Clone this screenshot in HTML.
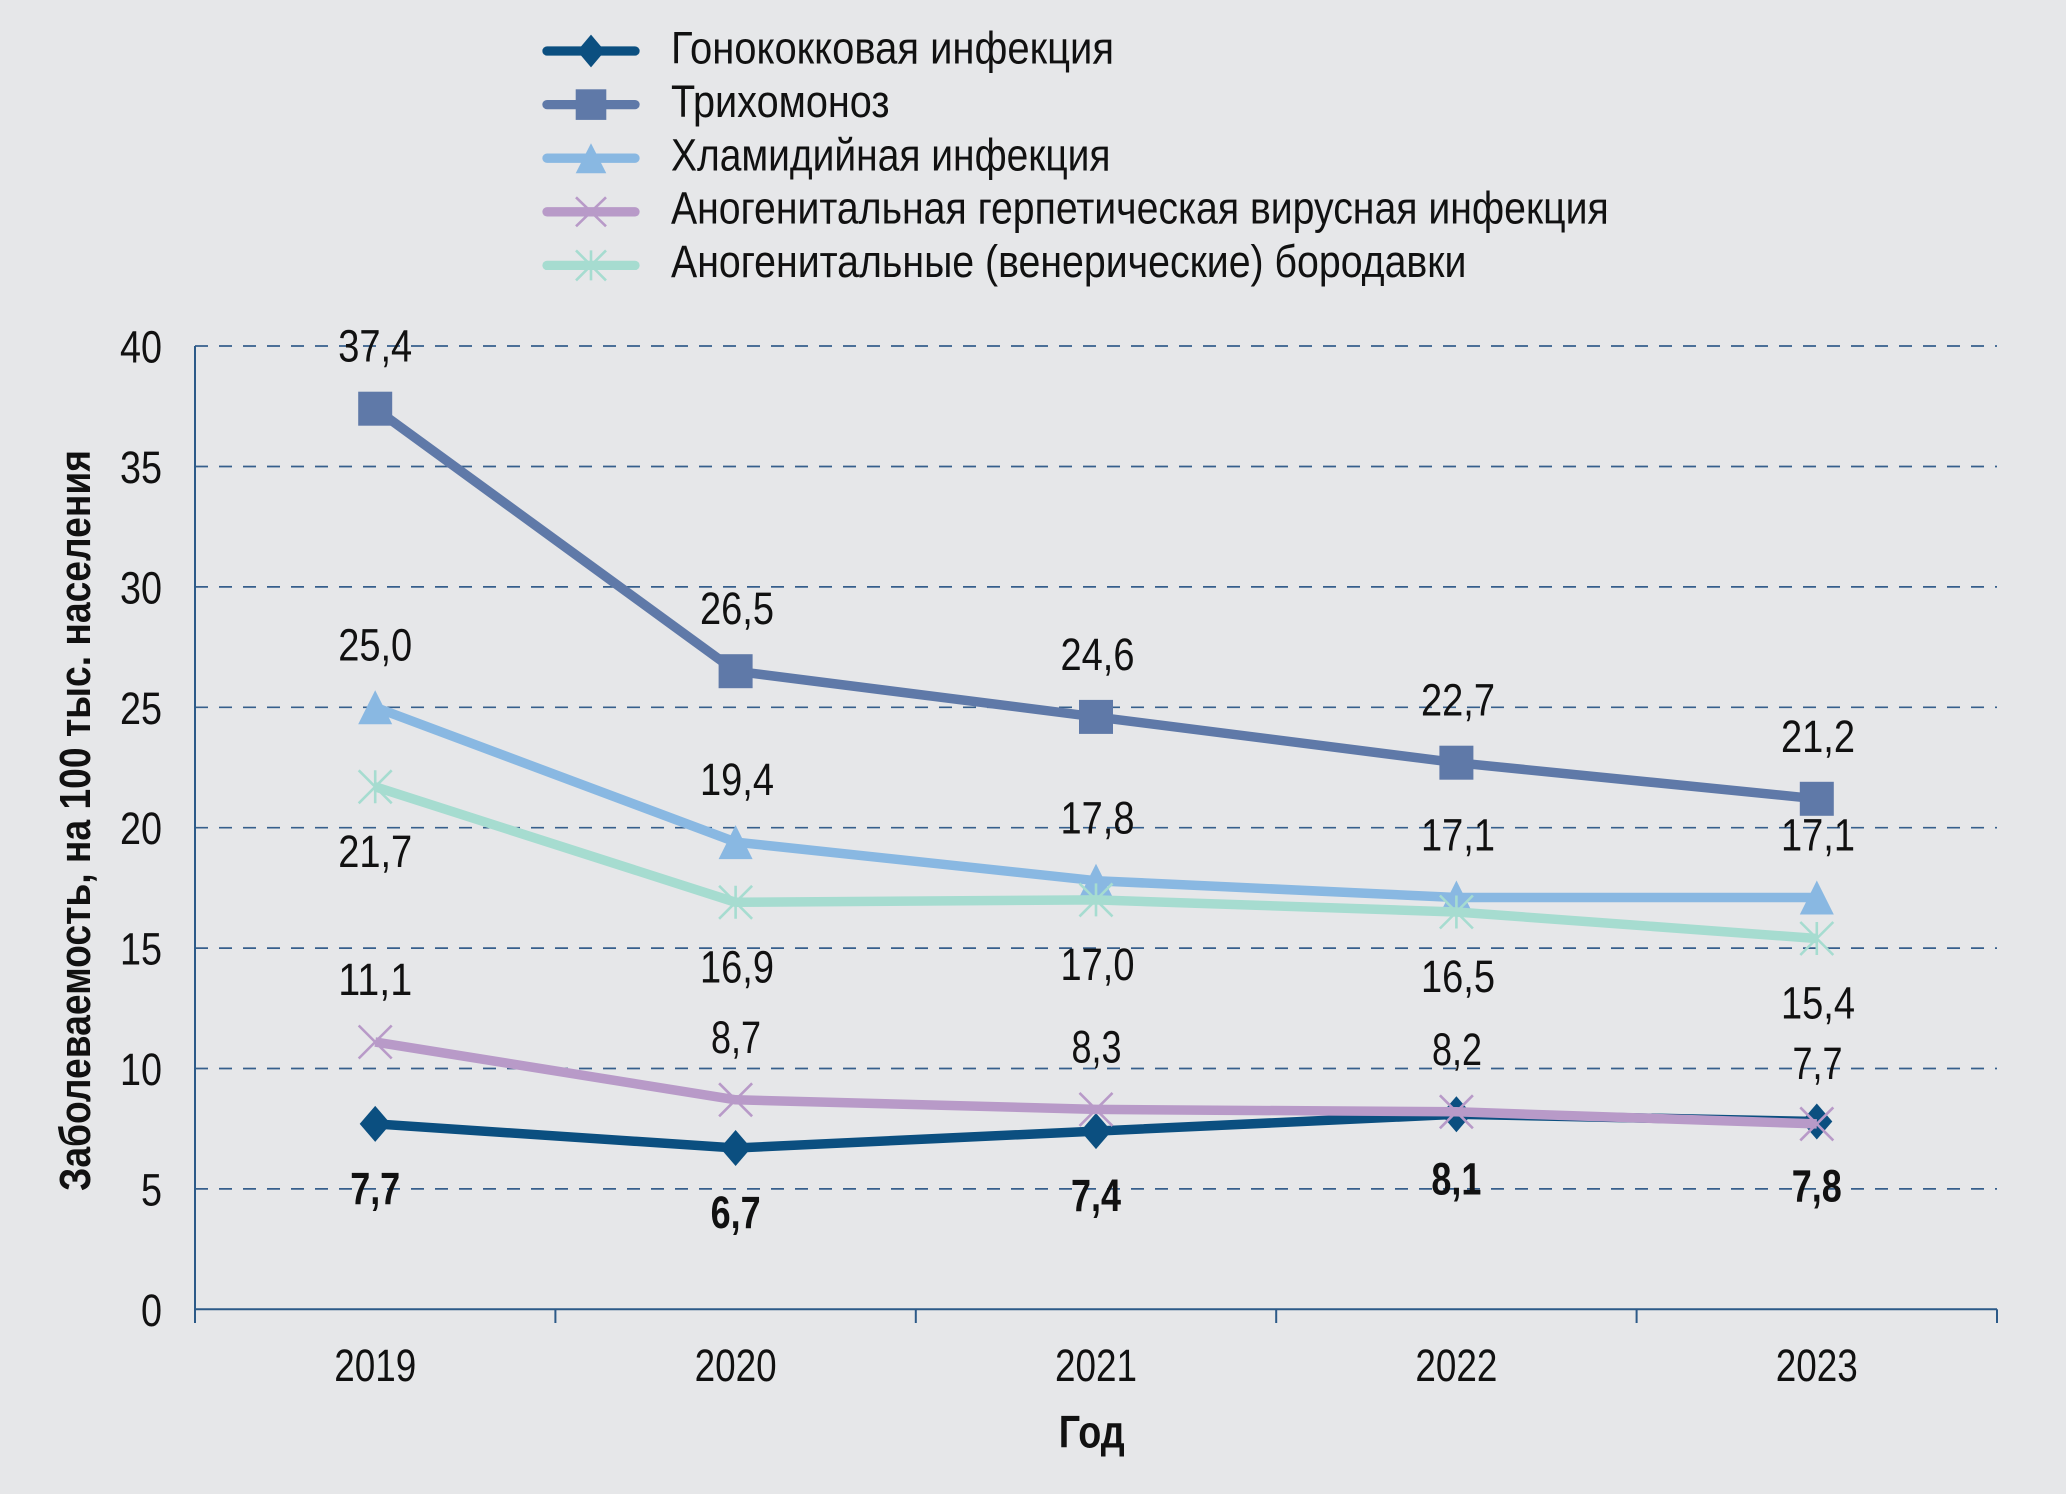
<!DOCTYPE html>
<html><head><meta charset="utf-8"><style>
html,body{margin:0;padding:0;background:#e6e7e9;}
svg{display:block;}
text{font-family:"Liberation Sans Narrow","Liberation Sans","Arial Narrow",sans-serif;fill:#111;}
.b{font-weight:bold;}
</style></head><body>
<svg width="2066" height="1494" viewBox="0 0 2066 1494" xmlns="http://www.w3.org/2000/svg">
<rect x="0" y="0" width="2066" height="1494" fill="#e6e7e9"/>

<!-- Legend -->
<g stroke-linecap="round">
<line x1="547" y1="51" x2="635" y2="51" stroke="#0b4f80" stroke-width="9.3"/>
<line x1="547" y1="104.6" x2="635" y2="104.6" stroke="#5f79a8" stroke-width="9.3"/>
<line x1="547" y1="158.2" x2="635" y2="158.2" stroke="#89b8e2" stroke-width="9.3"/>
<line x1="547" y1="211.8" x2="635" y2="211.8" stroke="#b89ac8" stroke-width="9.3"/>
<line x1="547" y1="265.4" x2="635" y2="265.4" stroke="#a6dcd0" stroke-width="9.3"/>
</g>
<path d="M591,34.6 L604.8,51 L591,67.4 L577.2,51 Z" fill="#0b4f80"/>
<rect x="575.7" y="89.3" width="30.6" height="30.6" fill="#5f79a8"/>
<path d="M591,143.2 L606.3,173.2 L575.7,173.2 Z" fill="#89b8e2"/>
<path d="M576,197.3 L606,226.3 M606,197.3 L576,226.3" stroke="#b89ac8" stroke-width="2.6" fill="none"/>
<path d="M576,250.4 L606,280.4 M606,250.4 L576,280.4 M591,250.4 L591,280.4" stroke="#a6dcd0" stroke-width="2.6" fill="none"/>

<text x="671" y="63.5" font-size="45" textLength="443" lengthAdjust="spacingAndGlyphs">Гонококковая инфекция</text>
<text x="671" y="116.9" font-size="45" textLength="218.6" lengthAdjust="spacingAndGlyphs">Трихомоноз</text>
<text x="671" y="170.3" font-size="45" textLength="439.5" lengthAdjust="spacingAndGlyphs">Хламидийная инфекция</text>
<text x="671" y="223.7" font-size="45" textLength="937.7" lengthAdjust="spacingAndGlyphs">Аногенитальная герпетическая вирусная инфекция</text>
<text x="671" y="277.1" font-size="45" textLength="795.4" lengthAdjust="spacingAndGlyphs">Аногенитальные (венерические) бородавки</text>

<!-- Gridlines -->
<g stroke="#365f8c" stroke-width="1.7" stroke-dasharray="13 11" fill="none">
<line x1="195" y1="346" x2="1997" y2="346"/>
<line x1="195" y1="466.5" x2="1997" y2="466.5"/>
<line x1="195" y1="586.9" x2="1997" y2="586.9"/>
<line x1="195" y1="707.3" x2="1997" y2="707.3"/>
<line x1="195" y1="827.7" x2="1997" y2="827.7"/>
<line x1="195" y1="948.1" x2="1997" y2="948.1"/>
<line x1="195" y1="1068.5" x2="1997" y2="1068.5"/>
<line x1="195" y1="1188.9" x2="1997" y2="1188.9"/>
</g>
<!-- Axes -->
<g stroke="#2c5a88" stroke-width="2" fill="none">
<line x1="195" y1="346" x2="195" y2="1323"/>
<line x1="195" y1="1309.3" x2="1997" y2="1309.3"/>
<line x1="555.4" y1="1309.3" x2="555.4" y2="1323"/>
<line x1="915.8" y1="1309.3" x2="915.8" y2="1323"/>
<line x1="1276.2" y1="1309.3" x2="1276.2" y2="1323"/>
<line x1="1636.6" y1="1309.3" x2="1636.6" y2="1323"/>
<line x1="1997" y1="1309.3" x2="1997" y2="1323"/>
</g>

<!-- Y tick labels -->
<g font-size="45" text-anchor="end">
<text x="162" y="362.5" textLength="42" lengthAdjust="spacingAndGlyphs">40</text>
<text x="162" y="483" textLength="42" lengthAdjust="spacingAndGlyphs">35</text>
<text x="162" y="603.4" textLength="42" lengthAdjust="spacingAndGlyphs">30</text>
<text x="162" y="723.8" textLength="42" lengthAdjust="spacingAndGlyphs">25</text>
<text x="162" y="844.2" textLength="42" lengthAdjust="spacingAndGlyphs">20</text>
<text x="162" y="964.6" textLength="42" lengthAdjust="spacingAndGlyphs">15</text>
<text x="162" y="1085" textLength="42" lengthAdjust="spacingAndGlyphs">10</text>
<text x="162" y="1205.4" textLength="21" lengthAdjust="spacingAndGlyphs">5</text>
<text x="162" y="1325.8" textLength="21" lengthAdjust="spacingAndGlyphs">0</text>
</g>

<!-- X labels -->
<g font-size="45" text-anchor="middle">
<text x="375.2" y="1381" textLength="82" lengthAdjust="spacingAndGlyphs">2019</text>
<text x="735.6" y="1381" textLength="82" lengthAdjust="spacingAndGlyphs">2020</text>
<text x="1096" y="1381" textLength="82" lengthAdjust="spacingAndGlyphs">2021</text>
<text x="1456.4" y="1381" textLength="82" lengthAdjust="spacingAndGlyphs">2022</text>
<text x="1816.8" y="1381" textLength="82" lengthAdjust="spacingAndGlyphs">2023</text>
</g>
<text class="b" x="1091.7" y="1447.7" font-size="45" text-anchor="middle" textLength="66" lengthAdjust="spacingAndGlyphs">Год</text>
<text class="b" transform="translate(90,820.5) rotate(-90)" x="0" y="0" font-size="44" text-anchor="middle" textLength="741" lengthAdjust="spacingAndGlyphs">Заболеваемость, на 100 тыс. населения</text>

<!-- Series lines -->
<g fill="none" stroke-width="9.5" stroke-linejoin="round" stroke-linecap="butt">
<polyline stroke="#0b4f80" points="375.2,1123.9 735.6,1148.0 1096,1131.1 1456.4,1114.3 1816.8,1121.5"/>
</g>
<g fill="#0b4f80">
<path d="M375.2,1105.9 L390.7,1123.9 L375.2,1141.9 L359.7,1123.9 Z"/>
<path d="M735.6,1130 L751.1,1148 L735.6,1166 L720.1,1148 Z"/>
<path d="M1096,1113.1 L1111.5,1131.1 L1096,1149.1 L1080.5,1131.1 Z"/>
<path d="M1456.4,1096.3 L1471.9,1114.3 L1456.4,1132.3 L1440.9,1114.3 Z"/>
<path d="M1816.8,1103.5 L1832.3,1121.5 L1816.8,1139.5 L1801.3,1121.5 Z"/>
</g>

<polyline fill="none" stroke-width="9.5" stroke-linejoin="round" stroke="#5f79a8" points="375.2,408.7 735.6,671.2 1096,716.9 1456.4,762.7 1816.8,798.8"/>
<g fill="#5f79a8">
<rect x="358.2" y="391.7" width="34" height="34"/>
<rect x="718.6" y="654.2" width="34" height="34"/>
<rect x="1079" y="699.9" width="34" height="34"/>
<rect x="1439.4" y="745.7" width="34" height="34"/>
<rect x="1799.8" y="781.8" width="34" height="34"/>
</g>

<polyline fill="none" stroke-width="9.5" stroke-linejoin="round" stroke="#89b8e2" points="375.2,707.3 735.6,842.1 1096,880.7 1456.4,897.5 1816.8,897.5"/>
<g fill="#89b8e2">
<path d="M375.2,690.3 L392.2,724.3 L358.2,724.3 Z"/>
<path d="M735.6,825.1 L752.6,859.1 L718.6,859.1 Z"/>
<path d="M1096,863.7 L1113,897.7 L1079,897.7 Z"/>
<path d="M1456.4,880.5 L1473.4,914.5 L1439.4,914.5 Z"/>
<path d="M1816.8,880.5 L1833.8,914.5 L1799.8,914.5 Z"/>
</g>

<polyline fill="none" stroke-width="9.5" stroke-linejoin="round" stroke="#b89ac8" points="375.2,1042.0 735.6,1099.8 1096,1109.4 1456.4,1111.8 1816.8,1123.9"/>
<g fill="none" stroke="#b89ac8" stroke-width="2.6">
<path d="M358.7,1025.5 L391.7,1058.5 M391.7,1025.5 L358.7,1058.5"/>
<path d="M719.1,1083.3 L752.1,1116.3 M752.1,1083.3 L719.1,1116.3"/>
<path d="M1079.5,1092.9 L1112.5,1125.9 M1112.5,1092.9 L1079.5,1125.9"/>
<path d="M1439.9,1095.3 L1472.9,1128.3 M1472.9,1095.3 L1439.9,1128.3"/>
<path d="M1800.3,1107.4 L1833.3,1140.4 M1833.3,1107.4 L1800.3,1140.4"/>
</g>

<polyline fill="none" stroke-width="9.5" stroke-linejoin="round" stroke="#a6dcd0" points="375.2,786.8 735.6,902.3 1096,899.9 1456.4,912.0 1816.8,938.5"/>
<g fill="none" stroke="#a6dcd0" stroke-width="2.6">
<path d="M358.7,770.3 L391.7,803.3 M391.7,770.3 L358.7,803.3 M375.2,770.3 L375.2,803.3"/>
<path d="M719.1,885.8 L752.1,918.8 M752.1,885.8 L719.1,918.8 M735.6,885.8 L735.6,918.8"/>
<path d="M1079.5,883.4 L1112.5,916.4 M1112.5,883.4 L1079.5,916.4 M1096,883.4 L1096,916.4"/>
<path d="M1439.9,895.5 L1472.9,928.5 M1472.9,895.5 L1439.9,928.5 M1456.4,895.5 L1456.4,928.5"/>
<path d="M1800.3,922 L1833.3,955 M1833.3,922 L1800.3,955 M1816.8,922 L1816.8,955"/>
</g>

<!-- Data labels -->
<g font-size="45" text-anchor="middle">
<!-- Trichomonas -->
<text x="375.2" y="361.7" textLength="74" lengthAdjust="spacingAndGlyphs">37,4</text>
<text x="737" y="624.2" textLength="74" lengthAdjust="spacingAndGlyphs">26,5</text>
<text x="1097.5" y="669.9" textLength="74" lengthAdjust="spacingAndGlyphs">24,6</text>
<text x="1458" y="715.7" textLength="74" lengthAdjust="spacingAndGlyphs">22,7</text>
<text x="1818" y="751.8" textLength="74" lengthAdjust="spacingAndGlyphs">21,2</text>
<!-- Chlamydia -->
<text x="375.2" y="660.3" textLength="74" lengthAdjust="spacingAndGlyphs">25,0</text>
<text x="737" y="795.1" textLength="74" lengthAdjust="spacingAndGlyphs">19,4</text>
<text x="1097.5" y="833.7" textLength="74" lengthAdjust="spacingAndGlyphs">17,8</text>
<text x="1458" y="850.5" textLength="74" lengthAdjust="spacingAndGlyphs">17,1</text>
<text x="1818" y="850.5" textLength="74" lengthAdjust="spacingAndGlyphs">17,1</text>
<!-- Herpes -->
<text x="375.2" y="995" textLength="74" lengthAdjust="spacingAndGlyphs">11,1</text>
<text x="736" y="1052.8" textLength="50" lengthAdjust="spacingAndGlyphs">8,7</text>
<text x="1096.5" y="1062.4" textLength="50" lengthAdjust="spacingAndGlyphs">8,3</text>
<text x="1457" y="1064.8" textLength="50" lengthAdjust="spacingAndGlyphs">8,2</text>
<text x="1817.5" y="1079" textLength="50" lengthAdjust="spacingAndGlyphs">7,7</text>
<!-- Warts -->
<text x="375.2" y="866.8" textLength="74" lengthAdjust="spacingAndGlyphs">21,7</text>
<text x="737" y="982.3" textLength="74" lengthAdjust="spacingAndGlyphs">16,9</text>
<text x="1097.5" y="979.9" textLength="74" lengthAdjust="spacingAndGlyphs">17,0</text>
<text x="1458" y="992" textLength="74" lengthAdjust="spacingAndGlyphs">16,5</text>
<text x="1818" y="1018.5" textLength="74" lengthAdjust="spacingAndGlyphs">15,4</text>
</g>
<g font-size="45" text-anchor="middle" class="b">
<text class="b" x="375.2" y="1203.9" textLength="50" lengthAdjust="spacingAndGlyphs">7,7</text>
<text class="b" x="735.6" y="1228" textLength="50" lengthAdjust="spacingAndGlyphs">6,7</text>
<text class="b" x="1096" y="1211.1" textLength="50" lengthAdjust="spacingAndGlyphs">7,4</text>
<text class="b" x="1456.4" y="1194.3" textLength="50" lengthAdjust="spacingAndGlyphs">8,1</text>
<text class="b" x="1816.8" y="1201.5" textLength="50" lengthAdjust="spacingAndGlyphs">7,8</text>
</g>
</svg>
</body></html>
